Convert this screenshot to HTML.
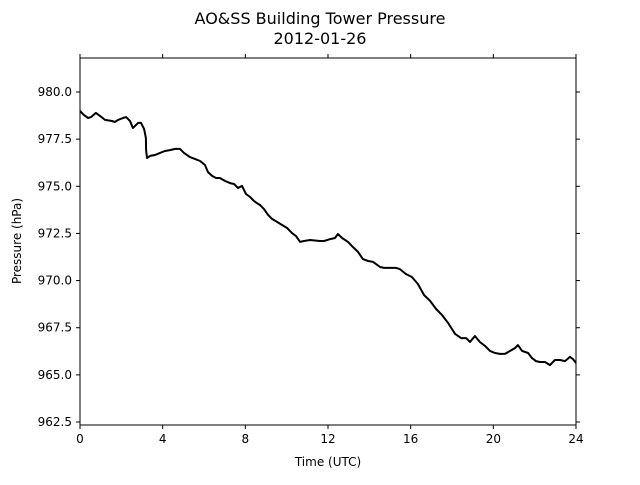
<!DOCTYPE html>
<html><head><meta charset="utf-8"><style>
body{margin:0;background:#fff}
svg text{font-family:"DejaVu Sans","Liberation Sans",sans-serif;fill:#000}
</style></head><body>
<svg width="640" height="480" xmlns="http://www.w3.org/2000/svg">
<rect width="640" height="480" fill="#fff"/>
<text x="320" y="24" text-anchor="middle" font-size="16">AO&amp;SS Building Tower Pressure</text>
<text x="320" y="44" text-anchor="middle" font-size="16">2012-01-26</text>
<g id="ticks"></g>
<path id="line" fill="none" stroke="#000" stroke-width="2" stroke-linejoin="round"/>
<rect x="80" y="58" width="496" height="367" fill="none" stroke="#000" stroke-width="1"/>
<text x="328" y="466" text-anchor="middle" font-size="12">Time (UTC)</text>
<text x="21" y="241" text-anchor="middle" font-size="12" transform="rotate(-90 21 241)">Pressure (hPa)</text>
</svg>
<script>
const times=[0,.19,.39,.53,.77,.97,1.21,1.55,1.69,1.84,2.08,2.23,2.42,2.56,2.71,2.81,2.95,3.10,3.19,3.20,3.24,3.39,3.63,3.87,4.11,4.35,4.60,4.84,5.03,5.32,5.56,5.81,6.05,6.19,6.39,6.58,6.77,7.02,7.26,7.45,7.65,7.84,8.03,8.23,8.42,8.56,8.71,8.90,9.10,9.29,9.53,9.77,10.02,10.26,10.45,10.65,10.84,11.13,11.61,11.81,12.10,12.34,12.48,12.68,12.97,13.16,13.45,13.69,13.94,14.18,14.52,14.71,15.00,15.29,15.48,15.77,16.06,16.35,16.65,16.94,17.23,17.52,17.81,18.15,18.44,18.68,18.87,19.11,19.35,19.60,19.84,20.08,20.32,20.56,20.81,21.05,21.19,21.39,21.68,21.87,22.06,22.26,22.50,22.74,22.98,23.23,23.47,23.71,23.85,24.00];
const pressure=[978.99,978.78,978.62,978.67,978.89,978.73,978.52,978.46,978.41,978.52,978.62,978.67,978.46,978.09,978.25,978.36,978.36,978.04,977.56,976.92,976.50,976.61,976.66,976.77,976.87,976.92,976.98,976.98,976.77,976.55,976.45,976.34,976.13,975.76,975.55,975.44,975.44,975.28,975.17,975.12,974.91,975.02,974.59,974.43,974.22,974.11,974.01,973.80,973.48,973.27,973.11,972.95,972.79,972.52,972.36,972.05,972.10,972.15,972.10,972.10,972.20,972.26,972.47,972.26,972.05,971.83,971.52,971.14,971.04,970.99,970.72,970.67,970.67,970.67,970.61,970.35,970.19,969.82,969.23,968.92,968.49,968.17,967.75,967.17,966.95,966.95,966.74,967.06,966.74,966.53,966.27,966.16,966.11,966.11,966.27,966.42,966.58,966.27,966.16,965.89,965.73,965.68,965.68,965.52,965.79,965.79,965.73,965.95,965.84,965.63];
const xTicks=[0,4,8,12,16,20,24];
const yTicks=[962.5,965.0,967.5,970.0,972.5,975.0,977.5,980.0];
const NS="http://www.w3.org/2000/svg";
const X=t=>80+t*(496/24);
const Y=p=>92+(980-p)*(330/17.5);
let d=times.map((t,i)=>(i?"L":"M")+X(t).toFixed(1)+","+Y(pressure[i]).toFixed(1)).join("");
document.getElementById("line").setAttribute("d",d);
const g=document.getElementById("ticks");
function mk(tag,attrs){const e=document.createElementNS(NS,tag);for(const k in attrs)e.setAttribute(k,attrs[k]);g.appendChild(e);return e;}
xTicks.forEach(t=>{
 const x=X(t);
 const a=mk("line",{x1:x,x2:x,y1:425,y2:429,stroke:"#000"});
 
 
 const b=mk("line",{x1:x,x2:x,y1:58,y2:54,stroke:"#000"});
 
 
 const l=mk("text",{x:x,y:443,"text-anchor":"middle","font-size":"12"});
 l.textContent=t;
 
 
});
yTicks.forEach(p=>{
 const y=Y(p);
 const a=mk("line",{x1:76,x2:80,y1:y,y2:y,stroke:"#000"});
 
 
 const b=mk("line",{x1:576,x2:580,y1:y,y2:y,stroke:"#000"});
 
 
 const l=mk("text",{x:72,y:y+4,"text-anchor":"end","font-size":"12"});
 l.textContent=p.toFixed(1);
 
 
});
</script>
</body></html>
